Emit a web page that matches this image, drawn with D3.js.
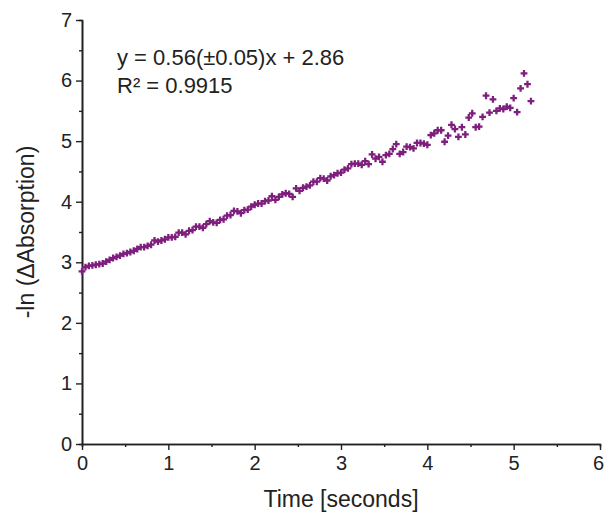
<!DOCTYPE html>
<html>
<head>
<meta charset="utf-8">
<script src="https://cdn.jsdelivr.net/npm/d3@7"></script>
<style>
  body { margin: 0; background: #fff; }
  text { font-family: "Liberation Sans", Arial, sans-serif; fill: #222; }
</style>
</head>
<body>
<div id="chart"></div>
<script>
// time step between samples (seconds)
const step = 0.04;

// -ln(dA) values, one per sample
const values = [
  2.85, 2.92, 2.94, 2.95, 2.96, 2.97, 2.98, 3.01, 3.04, 3.07,
  3.09, 3.11, 3.14, 3.15, 3.17, 3.19, 3.22, 3.25, 3.25, 3.27,
  3.29, 3.36, 3.34, 3.36, 3.38, 3.41, 3.41, 3.42, 3.49, 3.49,
  3.46, 3.52, 3.53, 3.59, 3.59, 3.57, 3.63, 3.68, 3.66, 3.65,
  3.70, 3.71, 3.77, 3.78, 3.85, 3.84, 3.81, 3.86, 3.87, 3.92,
  3.95, 3.97, 3.97, 4.01, 4.02, 4.09, 4.03, 4.08, 4.12, 4.14,
  4.13, 4.08, 4.22, 4.18, 4.23, 4.25, 4.27, 4.33, 4.33, 4.39,
  4.38, 4.35, 4.42, 4.44, 4.47, 4.48, 4.53, 4.55, 4.62, 4.63,
  4.63, 4.61, 4.67, 4.62, 4.78, 4.71, 4.74, 4.66, 4.77, 4.79,
  4.87, 4.95, 4.79, 4.82, 4.91, 4.90, 4.88, 4.97, 4.97, 4.96,
  4.94, 5.10, 5.13, 5.18, 5.18, 4.99, 5.09, 5.27, 5.20, 5.07,
  5.23, 5.11, 5.39, 5.46, 5.23, 5.24, 5.40, 5.75, 5.47, 5.69,
  5.50, 5.54, 5.53, 5.57, 5.55, 5.71, 5.48, 5.87, 6.12, 5.94,
  5.66
];
const times = values.map((v, i) => i * step);

const xTicks = [0, 1, 2, 3, 4, 5, 6];
const yTicks = [0, 1, 2, 3, 4, 5, 6, 7];
const fitLines = ["y = 0.56(\u00b10.05)x + 2.86", "R\u00b2 = 0.9915"];

const W = 606, H = 515;
const margin = {top: 20, right: 6, bottom: 71, left: 82};

const svg = d3.select("#chart").append("svg")
  .attr("width", W)
  .attr("height", H);

const x = d3.scaleLinear().domain([0, 6]).range([margin.left, W - margin.right]);
const y = d3.scaleLinear().domain([0, 7]).range([H - margin.bottom, margin.top]);

// minor ticks every 0.5
const xMinor = d3.range(0.5, 6, 1);
const yMinor = d3.range(0.5, 7, 1);

const gx = svg.append("g")
  .attr("transform", `translate(0,${y(0)})`);
gx.call(d3.axisBottom(x).tickValues(xMinor).tickSize(3).tickFormat(""));
gx.append("g").call(d3.axisBottom(x).tickValues(xTicks).tickSize(6).tickSizeOuter(0)
  .tickPadding(6).tickFormat(d3.format("d")));

const gy = svg.append("g")
  .attr("transform", `translate(${x(0)},0)`);
gy.call(d3.axisLeft(y).tickValues(yMinor).tickSize(3).tickFormat(""));
gy.append("g").call(d3.axisLeft(y).tickValues(yTicks).tickSize(6).tickSizeOuter(0)
  .tickPadding(4).tickFormat(d3.format("d")));

svg.selectAll(".domain").attr("stroke", "#222").attr("stroke-width", 1.6);
svg.selectAll(".tick line").attr("stroke", "#222").attr("stroke-width", 1.4);
svg.selectAll(".tick text")
  .style("font-family", "'Liberation Sans', Arial, sans-serif")
  .style("font-size", "20px")
  .attr("fill", "#222");
// keep the last x label inside the page
gx.selectAll(".tick text").filter(d => d === 6).attr("dx", "-2px");

// points
const marker = d3.symbol().type(d3.symbolCross).size(26);
svg.append("g")
  .selectAll("path")
  .data(values)
  .join("path")
    .attr("d", marker)
    .attr("transform", (d, i) => `translate(${x(times[i])},${y(d)})`)
    .attr("fill", "#7e1f7e");

// fit annotation
svg.append("g")
  .selectAll("text")
  .data(fitLines)
  .join("text")
    .attr("x", 117)
    .attr("y", (d, i) => 65 + i * 28)
    .style("font-size", "22px")
    .text(d => d);

// axis titles
svg.append("text")
  .attr("x", (x(0) + x(6)) / 2)
  .attr("y", 507)
  .attr("text-anchor", "middle")
  .style("font-size", "23px")
  .text("Time [seconds]");

svg.append("text")
  .attr("transform", `translate(34,${(y(0) + y(7)) / 2}) rotate(-90)`)
  .attr("text-anchor", "middle")
  .style("font-size", "23px")
  .text("-ln (\u0394Absorption)");
</script>
</body>
</html>
